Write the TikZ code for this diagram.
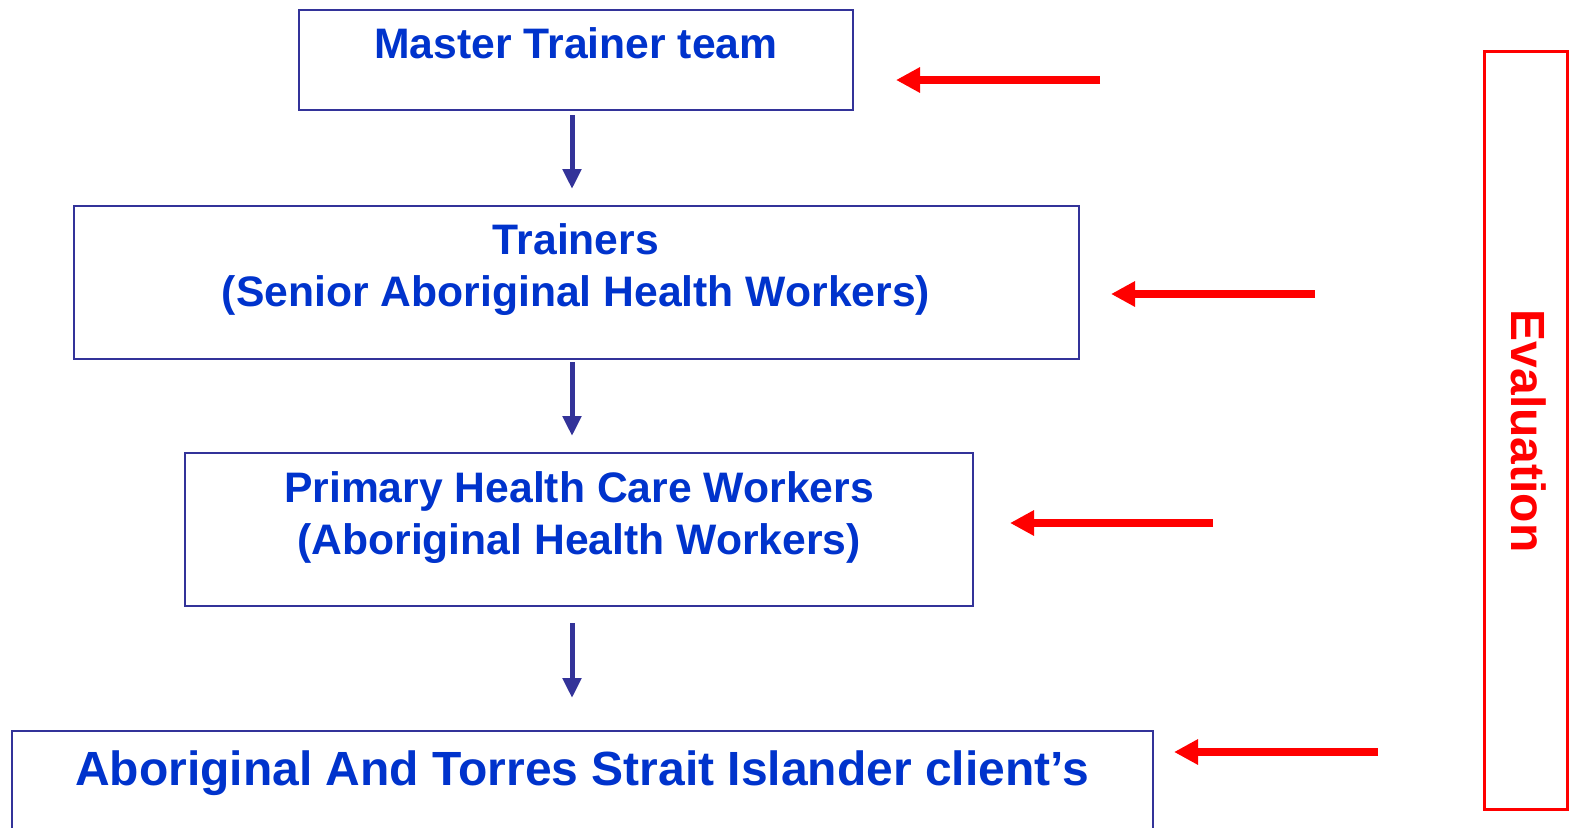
\documentclass[tikz,border=0pt]{standalone}
\usepackage{fontspec}
\setmainfont{Liberation Sans}
\usetikzlibrary{arrows.meta,fit}
\definecolor{boxblue}{RGB}{51,51,153}
\definecolor{txtblue}{RGB}{0,51,204}
\definecolor{evred}{RGB}{255,0,0}
\tikzset{
  box/.style={draw=boxblue, line width=1.5pt, inner sep=0pt},
  lbl/.style={text=txtblue, font=\bfseries\fontsize{32}{39}\selectfont, align=center, inner sep=0pt},
  biglbl/.style={text=txtblue, font=\bfseries\fontsize{36}{42}\selectfont, align=center, inner sep=0pt},
  darr/.style={draw=boxblue, line width=3.75pt, -{Triangle[width=13.5pt,length=15pt]}},
  rarr/.style={draw=evred, line width=5.4pt, -{Triangle[width=18pt,length=18pt]}},
}
\begin{document}
\begin{tikzpicture}[x=0.75pt,y=-0.75pt]
\useasboundingbox (0,0) rectangle (1571,828);
% boxes
\node[box, fit={(299,10) (853,110)}] (b1) {};
\node[box, fit={(74,206) (1079,359)}] (b2) {};
\node[box, fit={(185,453) (973,606)}] (b3) {};
\node[box, fit={(12,731) (1153,840)}] (b4) {};
% texts
\node[lbl] (t1) at (576,43) {Master Trainer team};
\node[lbl] (t2) at (576,270) {Trainers\\(Senior Aboriginal Health Workers)};
\node[lbl] (t3) at (579,518) {Primary Health Care Workers\\(Aboriginal Health Workers)};
\node[biglbl] (t4) at (582,773) {Aboriginal And Torres Strait Islander client’s};
% down arrows
\coordinate (ax) at (572,0);
\draw[darr] ([yshift=-3pt]b1.south -| ax) -- ([yshift=12pt]b2.north -| ax);
\draw[darr] ([yshift=-1.5pt]b2.south -| ax) -- ([yshift=12pt]b3.north -| ax);
\draw[darr] ([yshift=-12pt]b3.south -| ax) -- ([yshift=24pt]b4.north -| ax);
% evaluation box
\node[draw=evred, line width=2.25pt, inner sep=0pt, fit={(1484,51) (1567,809)}] (ev) {};
\node[text=evred, font=\bfseries\fontsize{36}{42}\selectfont, rotate=-90, inner sep=0pt] (evt) at (1529,431) {Evaluation};
% red arrows
\coordinate (r1s) at (1100,80);  \coordinate (r1e) at (896,80);
\coordinate (r2s) at (1315,294); \coordinate (r2e) at (1111,294);
\coordinate (r3s) at (1213,523); \coordinate (r3e) at (1010,523);
\coordinate (r4s) at (1378,752); \coordinate (r4e) at (1174,752);
\draw[rarr] (r1s) -- (r1e);
\draw[rarr] (r2s) -- (r2e);
\draw[rarr] (r3s) -- (r3e);
\draw[rarr] (r4s) -- (r4e);
\end{tikzpicture}
\end{document}
